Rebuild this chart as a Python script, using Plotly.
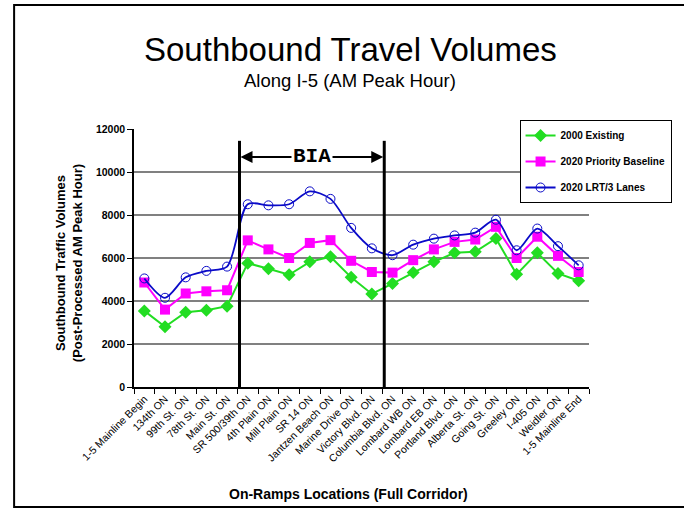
import plotly.graph_objects as go

# on-ramp locations along the corridor
ramps = [
    "1-5 Mainline Begin", "134th ON", "99th St. ON", "78th St. ON", "Main St. ON",
    "SR 500/39th ON", "4th Plain ON", "Mill Plain ON", "SR 14 ON", "Jantzen Beach ON",
    "Marine Drive ON", "Victory Blvd. ON", "Columbia Blvd. ON", "Lombard WB ON",
    "Lombard EB ON", "Portland Blvd. ON", "Alberta St. ON", "Going St. ON",
    "Greeley ON", "I-405 ON", "Weidler ON", "1-5 Mainline End",
]

existing_2000 = [3540, 2800, 3480, 3570, 3760, 5760, 5500, 5220, 5820, 6060, 5100,
                 4330, 4810, 5330, 5820, 6240, 6290, 6910, 5240, 6240, 5280, 4940]
priority_2020 = [4860, 3600, 4350, 4450, 4500, 6820, 6400, 6000, 6700, 6830, 5870,
                 5350, 5320, 5900, 6400, 6750, 6860, 7450, 6000, 6990, 6100, 5350]
lrt_2020 = [5050, 4150, 5100, 5400, 5600, 8500, 8450, 8500, 9100, 8750, 7400,
            6450, 6130, 6620, 6900, 7050, 7180, 7780, 6360, 7370, 6550, 5660]

bia_bounds = [4.6, 11.6]      # BIA study area limits (category index)
bia_top = 11450
bia_arrow_y = 10700

W, H = 684, 510
L, R, T, B = 134, 597, 129, 387     # plot area in pixels


def px_x(p):
    return (p - L) / (R - L)


def px_y(p):
    return (B - p) / (B - T)


FONT = "Arial, 'Liberation Sans', sans-serif"

fig = go.Figure()
fig.add_trace(go.Scatter(
    x=ramps, y=existing_2000, name="2000 Existing", mode="lines+markers",
    line=dict(color="#22dd22", width=2),
    marker=dict(symbol="diamond", size=10, color="#22dd22"),
    legendgroup="a",
))
fig.add_trace(go.Scatter(
    x=ramps, y=priority_2020, name="2020 Priority Baseline", mode="lines+markers",
    line=dict(color="#ff00ff", width=2),
    marker=dict(symbol="square", size=10, color="#ff00ff"),
    legendgroup="b",
))
fig.add_trace(go.Scatter(
    x=ramps, y=lrt_2020, name="2020 LRT/3 Lanes", mode="lines+markers",
    line=dict(color="#0a0ac8", width=1.8, shape="spline", smoothing=0.8),
    marker=dict(symbol="circle-open", size=9, color="#0a0ac8", line=dict(width=1)),
    legendgroup="c",
))

# BIA boundary lines
for bx in bia_bounds:
    fig.add_shape(type="line", xref="x", yref="y", x0=bx, x1=bx, y0=0, y1=bia_top,
                  line=dict(color="black", width=3))

# double arrow between the boundaries, BIA label on top
mid = sum(bia_bounds) / 2
for bx in bia_bounds:
    fig.add_annotation(x=bx, y=bia_arrow_y, ax=mid, ay=bia_arrow_y, axref="x", ayref="y",
                       text="", showarrow=True, arrowhead=2, arrowsize=1.2, arrowwidth=2,
                       arrowcolor="black", standoff=1)
fig.add_annotation(x=mid, y=bia_arrow_y, text="<b>BIA</b>", showarrow=False,
                   bgcolor="white", xanchor="center", yanchor="middle",
                   font=dict(family="'Liberation Mono', 'Courier New', monospace",
                             size=21, color="black"))

# titles
fig.add_annotation(xref="paper", yref="paper", x=px_x(354), y=px_y(50),
                   xanchor="center", yanchor="middle",
                   text="Southbound Travel Volumes", showarrow=False,
                   font=dict(family=FONT, size=33, color="black"))
fig.add_annotation(xref="paper", yref="paper", x=px_x(354), y=px_y(80),
                   xanchor="center", yanchor="middle",
                   text="Along I-5 (AM Peak Hour)", showarrow=False,
                   font=dict(family=FONT, size=18.5, color="black"))
fig.add_annotation(xref="paper", yref="paper", x=px_x(68), y=px_y(263),
                   xanchor="center", yanchor="middle",
                   text="<b>Southbound Traffic Volumes<br>(Post-Processed AM Peak Hour)</b>",
                   textangle=-90, showarrow=False,
                   font=dict(family=FONT, size=13, color="black"))
fig.add_annotation(xref="paper", yref="paper", x=px_x(352), y=px_y(494),
                   xanchor="center", yanchor="middle",
                   text="<b>On-Ramps Locations (Full Corridor)</b>", showarrow=False,
                   font=dict(family=FONT, size=14, color="black"))

# outer frame (right side runs off the image)
fig.add_shape(type="rect", xref="paper", yref="paper",
              x0=px_x(12), x1=px_x(700), y0=px_y(507), y1=px_y(5),
              line=dict(color="black", width=2), layer="below")

fig.update_layout(
    width=W, height=H,
    margin=dict(l=L, r=W - R, t=T, b=H - B),
    paper_bgcolor="white", plot_bgcolor="white",
    font=dict(family=FONT, color="black"),
    showlegend=True,
    legend=dict(x=px_x(681), y=px_y(120), xanchor="right", yanchor="top",
                bgcolor="white", bordercolor="black", borderwidth=1,
                font=dict(family=FONT, size=10, color="black", weight="bold"),
                tracegroupgap=7, itemwidth=30),
)
fig.update_xaxes(
    type="category", range=[-0.5, len(ramps) - 0.5],
    tickangle=-45, tickfont=dict(family=FONT, size=10.5, color="black"),
    ticks="outside", ticklen=5, tickcolor="black", tickson="boundaries",
    showline=True, linecolor="black", linewidth=1.5, showgrid=False,
)
fig.update_yaxes(
    range=[0, 12000], dtick=2000, tickformat="d",
    tickfont=dict(family=FONT, size=10.5, color="black", weight="bold"),
    ticks="outside", ticklen=5, tickcolor="black",
    showline=True, linecolor="black", linewidth=1.5,
    showgrid=True, gridcolor="#808080", gridwidth=2, zeroline=False,
)

# drop the default page margin so the figure sits at the window corner
fig.write_html("out.html", config={"displayModeBar": False},
               post_script="document.body.style.margin = '0';")
